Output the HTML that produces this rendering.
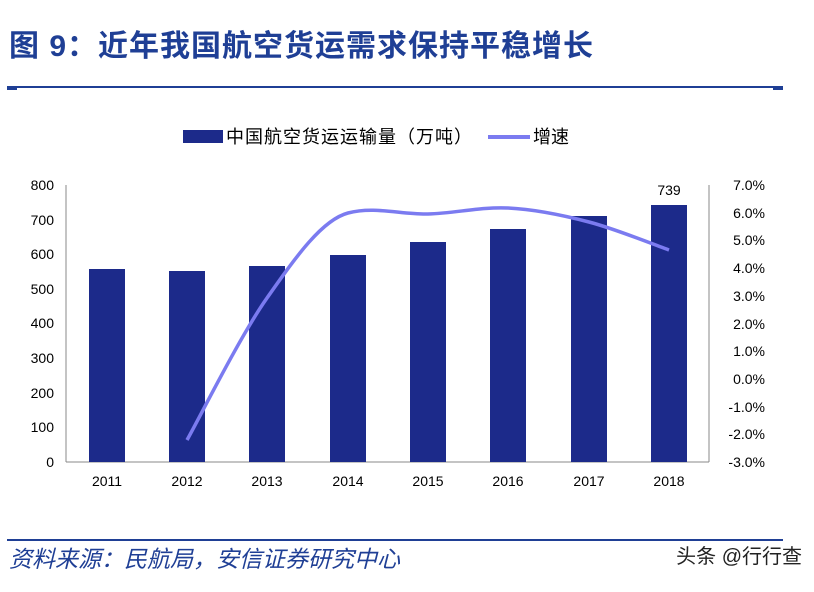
<!DOCTYPE html><html><head><meta charset="utf-8"><style>
body{margin:0;background:#fff;width:814px;height:587px;overflow:hidden}
text{font-family:"Liberation Sans","Noto Sans CJK SC",sans-serif}
</style></head><body>
<svg width="814" height="587" xmlns="http://www.w3.org/2000/svg">
<text x="9" y="56" font-size="30" font-weight="bold" fill="#1f3f95" letter-spacing="1" font-family="'Noto Serif CJK SC','Noto Sans CJK SC',serif">图 9：近年我国航空货运需求保持平稳增长</text>
<rect x="7" y="86" width="776" height="2" fill="#1f3f95"/>
<rect x="7" y="87" width="10" height="3" fill="#1f3f95"/><rect x="773" y="87" width="10" height="3" fill="#1f3f95"/>
<rect x="183" y="130" width="40" height="13" fill="#1c2a8a"/>
<text x="226" y="143" font-size="18" letter-spacing="1" fill="#000">中国航空货运运输量（万吨）</text>
<rect x="488" y="135" width="42" height="4" fill="#7b7bf0"/>
<text x="533" y="143" font-size="18" fill="#000">增速</text>
<g stroke="#888" stroke-width="1">
<line x1="66" y1="185" x2="66" y2="462"/><line x1="66" y1="462" x2="709" y2="462"/><line x1="709" y1="185" x2="709" y2="462"/>
</g>
<g font-size="14" fill="#000" text-anchor="end">
<text x="54" y="190">800</text><text x="54" y="225">700</text><text x="54" y="259">600</text><text x="54" y="294">500</text><text x="54" y="328">400</text><text x="54" y="363">300</text><text x="54" y="398">200</text><text x="54" y="432">100</text><text x="54" y="467">0</text>
</g>
<g font-size="14" fill="#000" text-anchor="end">
<text x="765" y="190">7.0%</text><text x="765" y="218">6.0%</text><text x="765" y="245">5.0%</text><text x="765" y="273">4.0%</text><text x="765" y="301">3.0%</text><text x="765" y="329">2.0%</text><text x="765" y="356">1.0%</text><text x="765" y="384">0.0%</text><text x="765" y="412">-1.0%</text><text x="765" y="439">-2.0%</text><text x="765" y="467">-3.0%</text>
</g>
<g fill="#1c2a8a">
<rect x="89" y="269" width="36" height="193"/>
<rect x="169" y="271" width="36" height="191"/>
<rect x="249" y="266" width="36" height="196"/>
<rect x="330" y="255" width="36" height="207"/>
<rect x="410" y="242" width="36" height="220"/>
<rect x="490" y="229" width="36" height="233"/>
<rect x="571" y="216" width="36" height="246"/>
<rect x="651" y="205" width="36" height="257"/>
</g>
<text x="669" y="195" font-size="14" text-anchor="middle" fill="#000">739</text>
<path d="M187,440 C200.3,416.3 240.2,336 267,298 C293.8,260 321.2,220 348,213 C374.8,206 401.3,214.7 428,214 C454.7,213.3 481.2,206.7 508,208 C534.8,209.3 562.2,215 589,222 C615.8,229 655.7,245.3 669,250" fill="none" stroke="#7b7bf0" stroke-width="3.5"/>
<g font-size="14" fill="#000" text-anchor="middle">
<text x="107" y="486">2011</text><text x="187" y="486">2012</text><text x="267" y="486">2013</text><text x="348" y="486">2014</text><text x="428" y="486">2015</text><text x="508" y="486">2016</text><text x="589" y="486">2017</text><text x="669" y="486">2018</text>
</g>
<rect x="7" y="539" width="776" height="2" fill="#1f3f95"/>
<text x="9" y="567" font-size="23" font-style="italic" fill="#1f3f95" font-family="'Noto Serif CJK SC','Noto Sans CJK SC',serif">资料来源：民航局，安信证券研究中心</text>
<text x="802" y="563" font-size="20" text-anchor="end" fill="#222">头条 @行行查</text>
</svg>
</body></html>
